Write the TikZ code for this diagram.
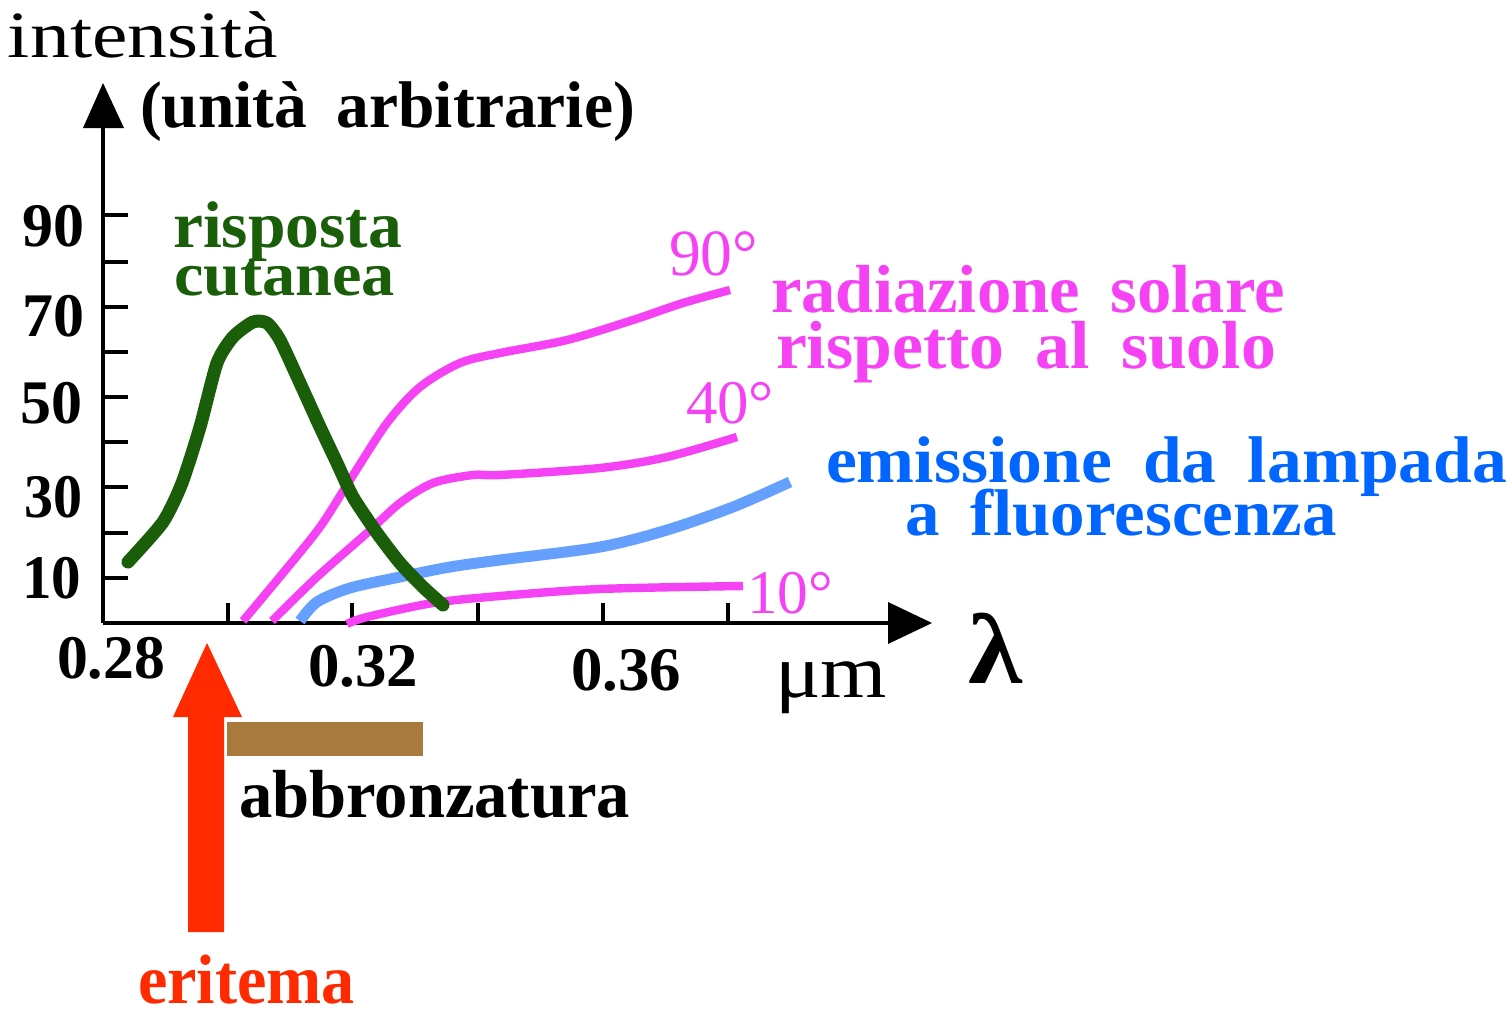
\documentclass[tikz,border=0pt]{standalone}
\usepackage{fontspec}
\setmainfont{Liberation Serif}
\usepackage{graphicx}
\definecolor{mag}{RGB}{245,66,245}
\definecolor{gr}{RGB}{26,94,10}
\definecolor{lblue}{RGB}{102,160,255}
\definecolor{dblue}{RGB}{0,102,255}
\definecolor{redo}{RGB}{255,42,0}
\definecolor{brn}{RGB}{168,122,62}
\newcommand\fitt[3]{\resizebox{#1pt}{\height}{\fontsize{#2pt}{#2pt}\selectfont #3}}
\newcommand\gap{\hspace{0.45em}}
\tikzset{
  lbl/.style={inner sep=0pt, outer sep=0pt, anchor=base west},
  num/.style={inner sep=0pt, outer sep=0pt, anchor=center},
  axis/.style={line width=2pt, black},
  tick/.style={line width=2pt, black},
  sun/.style={line width=4.2pt, mag, line join=round},
  lamp/.style={line width=5.5pt, lblue, line join=round},
  skin/.style={line width=6.5pt, gr, line join=round, line cap=round},
}
\begin{document}
\begin{tikzpicture}[x=0.5pt,y=-0.5pt]
\useasboundingbox (0,0) rectangle (1511,1012);

% axes
\coordinate (O) at (103,623);
\coordinate (ytip) at (103,83);
\coordinate (xtip) at (932,623);
\draw[axis] (O) -- (103,126);
\draw[axis] (O) -- (890,623);
\fill (ytip) -- (124,128) -- (83,128) -- cycle;
\fill (xtip) -- (888,602) -- (888,644) -- cycle;
\foreach \y in {215,262,307,352,397,442,487,533,578}
  \draw[tick] (103,\y) -- (128,\y);
\foreach \x in {228,352,478,603,728}
  \draw[tick] (\x,623) -- (\x,603);

% curves
\draw[sun] plot[smooth, tension=0.5] coordinates {(243,621) (283,573) (320,527) (350,480) (387,423) (420,387) (460,363) (500,353) (567,340) (633,320) (683,303) (730,290)};
\draw[sun] plot[smooth, tension=0.5] coordinates {(272,621) (317,577) (367,533) (400,503) (433,483) (473,475) (500,475) (600,468) (667,457) (737,437)};
\draw[sun] plot[smooth, tension=0.5] coordinates {(347,624) (367,617) (433,603) (500,596) (600,589) (743,586)};
\draw[lamp] plot[smooth, tension=0.5] coordinates {(300,621) (317,602) (350,588) (400,577) (450,567) (500,560) (600,547) (667,530) (733,507) (790,482)};
\draw[skin] plot[smooth, tension=0.4] coordinates {(128,562) (163,522) (182,483) (200,427) (217,363) (233,337) (253,322) (267,323) (280,340) (300,383) (320,427) (337,463) (353,497) (377,533) (400,563) (423,587) (443,605)};

% eritema arrow and tan bar
\fill[redo] (188,932) -- (224,932) -- (224,717) -- (242,717) -- (207,643) -- (173,717) -- (188,717) -- cycle;
\fill[brn] (227,722) rectangle (423,756);

% axis texts
\node[lbl] (intens) at (8,57) {\fitt{135}{33}{intensità}};
\node[lbl] (unita) at (140,127) {\fitt{247.5}{33}{\bfseries (unità\gap arbitrarie)}};
\node[num] (y90) at (53,226) {\fitt{31}{31}{\bfseries 90}};
\node[num] (y70) at (53,316) {\fitt{31}{31}{\bfseries 70}};
\node[num] (y50) at (51,403) {\fitt{31}{31}{\bfseries 50}};
\node[num] (y30) at (53,497) {\fitt{29}{31}{\bfseries 30}};
\node[num] (y10) at (52,578) {\fitt{29.5}{31}{\bfseries 10}};
\node[num] (x28) at (111,658) {\fitt{54}{31}{\bfseries 0.28}};
\node[num] (x32) at (363,666) {\fitt{55}{31}{\bfseries 0.32}};
\node[num] (x36) at (626,670) {\fitt{55}{31}{\bfseries 0.36}};
\node[lbl] (um) at (775,697) {\fitt{56}{38}{μm}};
\node[lbl] (lam) at (968,683) {\fitt{27}{50}{\bfseries λ}};

% curve labels
\node[lbl, text=gr] (risp) at (173,247) {\fitt{114.5}{33}{\bfseries risposta}};
\node[lbl, text=gr] (cut) at (174,295) {\fitt{110.5}{31}{\bfseries cutanea}};
\node[lbl, text=mag] (d90) at (669,275) {\fitt{44.5}{33}{90°}};
\node[lbl, text=mag] (d40) at (686,423) {\fitt{44}{31}{40°}};
\node[lbl, text=mag] (d10) at (747,613) {\fitt{43}{31}{10°}};
\node[lbl, text=mag] (rad) at (771,312) {\fitt{257}{34}{\bfseries radiazione\gap solare}};
\node[lbl, text=mag] (rsp) at (776,368) {\fitt{250}{34}{\bfseries rispetto\gap al\gap suolo}};
\node[lbl, text=dblue] (emi) at (826,482) {\fitt{340.5}{33}{\bfseries emissione\gap da\gap lampada}};
\node[lbl, text=dblue] (flu) at (905,535) {\fitt{216}{33}{\bfseries a\gap fluorescenza}};
\node[lbl] (abb) at (239,817) {\fitt{195.5}{34}{\bfseries abbronzatura}};
\node[lbl, text=redo] (eri) at (138,1003) {\fitt{108.5}{35}{\bfseries eritema}};
\end{tikzpicture}
\end{document}
